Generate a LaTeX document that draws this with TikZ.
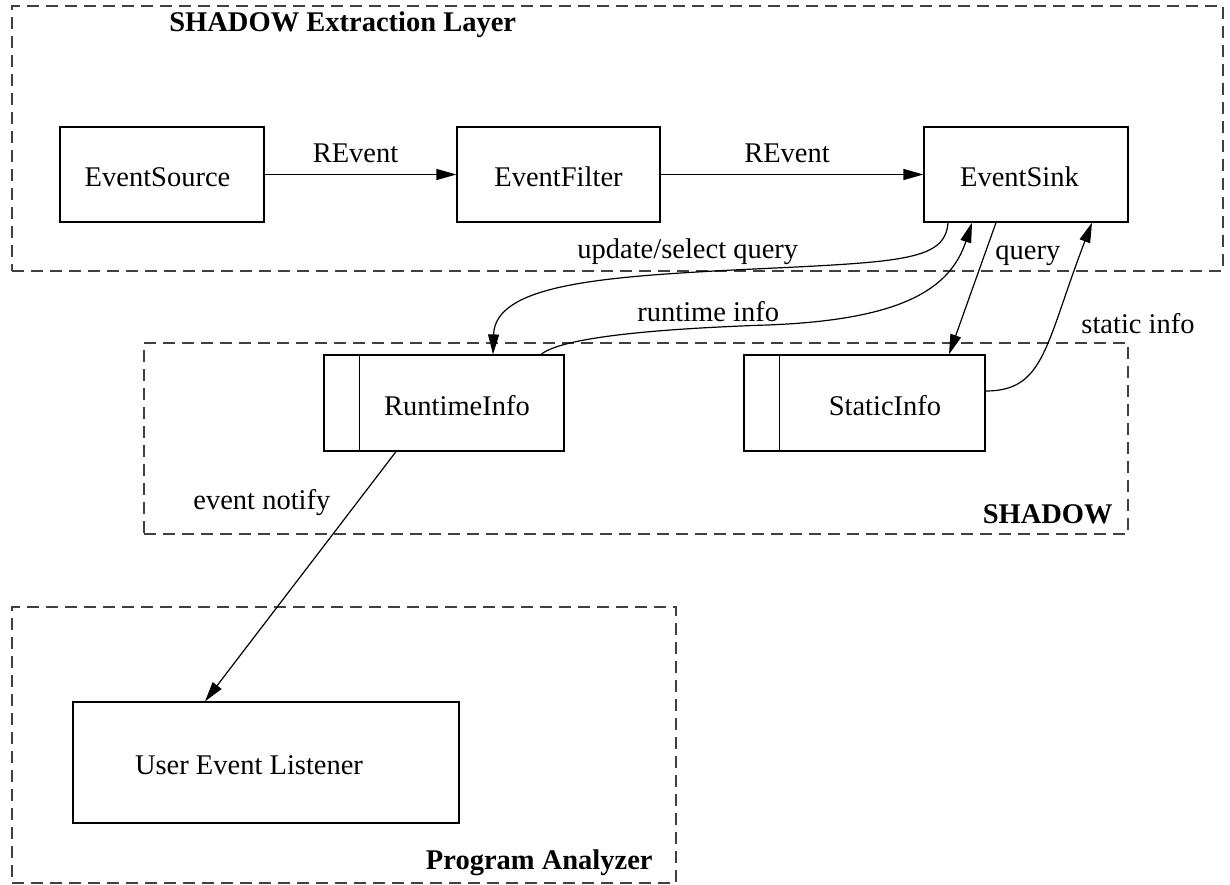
\documentclass[tikz,border=0pt]{standalone}
\usepackage{fontspec}
\setmainfont{Liberation Serif}
\usetikzlibrary{arrows.meta,calc}
\begin{document}
\begin{tikzpicture}[x=0.5pt,y=-0.5pt,
  font=\fontsize{14.25}{17}\selectfont,
  box/.style={draw, line width=0.6pt, rectangle, inner sep=0pt,
              text height=12.4pt, text depth=0pt},
  group/.style={draw=black!75, line width=0.6pt,
                dash pattern=on 6pt off 3.5pt, inner sep=0pt},
  lbl/.style={inner sep=0pt},
  grouptitle/.style={inner sep=0pt, font=\fontsize{14.25}{17}\selectfont\bfseries},
  conn/.style={line width=0.6pt, -{Triangle[length=10pt,width=5.5pt]}},
  divider/.style={line width=0.6pt},
]
\useasboundingbox (0,0) rectangle (1230,884);

% dashed groups
\node[group, minimum width=605.5pt, minimum height=132.5pt] (ext) at (617.5,138.5) {};
\node[group, minimum width=492pt, minimum height=95.5pt] (shadow) at (636,438.5) {};
\node[group, minimum width=332pt, minimum height=138pt] (pa) at (344,745) {};

\node[grouptitle, anchor=base west] (exttitle) at (169,31) {SHADOW Extraction Layer};
\node[grouptitle, anchor=base east] (shadowtitle) at (1113,523.5) {SHADOW};
\node[grouptitle, anchor=base east] (patitle) at (653,869) {Program Analyzer};

% extraction pipeline
\node[box, minimum width=102pt, minimum height=47.5pt] (src) at (162,174.5) {EventSource\hspace*{4.5pt}};
\node[box, minimum width=101.5pt, minimum height=47.5pt] (filt) at (558.5,174.5) {EventFilter};
\node[box, minimum width=102pt, minimum height=47.5pt] (sink) at (1026,174.5) {EventSink\hspace*{6.5pt}};

% shadow stores
\node[box, minimum width=120pt, minimum height=48pt] (rt) at (444,403) {\hspace*{13pt}RuntimeInfo};
\node[box, minimum width=120.5pt, minimum height=48pt] (st) at (864.5,403) {\hspace*{20.5pt}StaticInfo};
\draw[divider] ($(rt.north west)+(36,0)$) -- ($(rt.south west)+(36,0)$);
\draw[divider] ($(st.north west)+(36,0)$) -- ($(st.south west)+(36,0)$);

% analyzer
\node[box, minimum width=193pt, minimum height=60.5pt] (uel) at (266,762.5) {User Event Listener\hspace*{17pt}};

% connectors
\draw[conn] (src.east) -- (filt.west);
\draw[conn] (filt.west -| filt.east) -- (sink.west);
\node[lbl, anchor=base] (l1) at (355.5,162.5) {REvent};
\node[lbl, anchor=base] (l2) at (787,162.5) {REvent};

\draw[conn] ($(sink.south)+(-78,0)$) .. controls (945,262) and (900,262) .. (733,270)
  .. controls (600,277) and (495,285) .. ($(rt.north)+(49,0)$);
\node[lbl, anchor=base west] (l3) at (577,258) {update/select query};

\draw[conn] ($(rt.north)+(97,0)$) .. controls (565,335) and (680,328) .. (767,325)
  .. controls (900,320) and (950,290) .. ($(sink.south)+(-54,0)$);
\node[lbl, anchor=base west] (l4) at (637,321) {runtime info};

\draw[conn] ($(sink.south)+(-30,0)$) -- ($(st.north)+(84.5,0)$);
\node[lbl, anchor=base west] (l5) at (995,259) {query};

\draw[conn] ($(st.east)+(0,-12)$) .. controls (1045,391) and (1045,345) .. ($(sink.south)+(66,0)$);
\node[lbl, anchor=base west] (l6) at (1081,333) {static info};

\draw[conn] ($(rt.south)+(-48,0)$) -- ($(uel.north)+(-61,0)$);
\node[lbl, anchor=base west] (l7) at (193,509) {event notify};
\end{tikzpicture}
\end{document}
